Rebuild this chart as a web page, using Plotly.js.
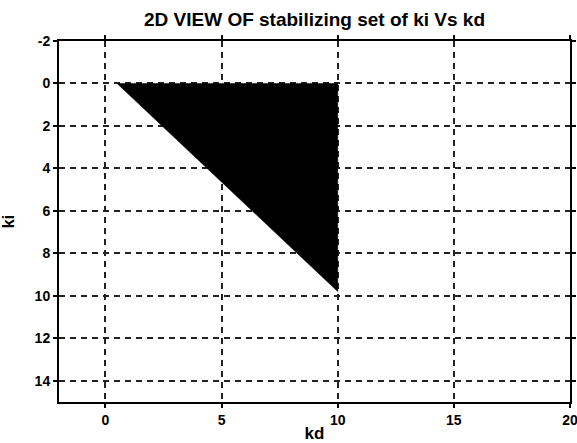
<!DOCTYPE html>
<html>
<head>
<meta charset="utf-8">
<script src="https://cdn.plot.ly/plotly-3.0.1.min.js"></script>
<style>html,body{margin:0;padding:0;background:#fff;}</style>
</head>
<body>
<div id="chart" style="width:577px;height:443px;"></div>
<script>
// Stabilizing region vertices (kd, ki)
const kdValues = [0.5, 10, 10, 0.5];
const kiValues = [0, 0, 9.8, 0];
const xTicks = [0, 5, 10, 15, 20];
const yTicks = [-2, 0, 2, 4, 6, 8, 10, 12, 14];

const fontFam = '"Liberation Sans", Arial, sans-serif';

const trace = {
  x: kdValues, y: kiValues,
  type: 'scatter', mode: 'lines',
  fill: 'toself', fillcolor: '#000000',
  line: {color: '#000000', width: 0.5},
  hoverinfo: 'skip', showlegend: false
};

const axisCommon = {
  showline: true, linecolor: '#000', linewidth: 2,
  mirror: 'ticks', ticks: 'outside', ticklen: 4, tickcolor: '#000', tickwidth: 2,
  showgrid: true, gridcolor: '#222', gridwidth: 2, griddash: '6px,5px',
  zeroline: false, ticklabeloverflow: 'allow',
  tickfont: {family: fontFam, size: 14, color: '#000', weight: 'bold'}
};

const layout = {
  width: 577, height: 443,
  margin: {l: 59, r: 7, t: 41, b: 41},
  paper_bgcolor: '#fff', plot_bgcolor: '#fff',
  title: {text: '<b>2D VIEW OF stabilizing set of ki Vs kd</b>',
    font: {family: fontFam, size: 19, color: '#000'},
    xref: 'paper', x: 0.5, xanchor: 'center', yref: 'container', y: 0.956, yanchor: 'middle'},
  xaxis: Object.assign({}, axisCommon, {
    range: [-2, 20], tickvals: xTicks, ticktext: xTicks.map(String),
    title: {text: '<b>kd</b>', font: {family: fontFam, size: 17, color: '#000'}, standoff: 0}
  }),
  yaxis: Object.assign({}, axisCommon, {
    range: [15, -2], tickvals: yTicks, ticktext: yTicks.map(String),
    title: {text: '<b>ki</b>', font: {family: fontFam, size: 16, color: '#000'}, standoff: 20}
  })
};

Plotly.newPlot('chart', [trace], layout, {staticPlot: true, displayModeBar: false});
</script>
</body>
</html>
